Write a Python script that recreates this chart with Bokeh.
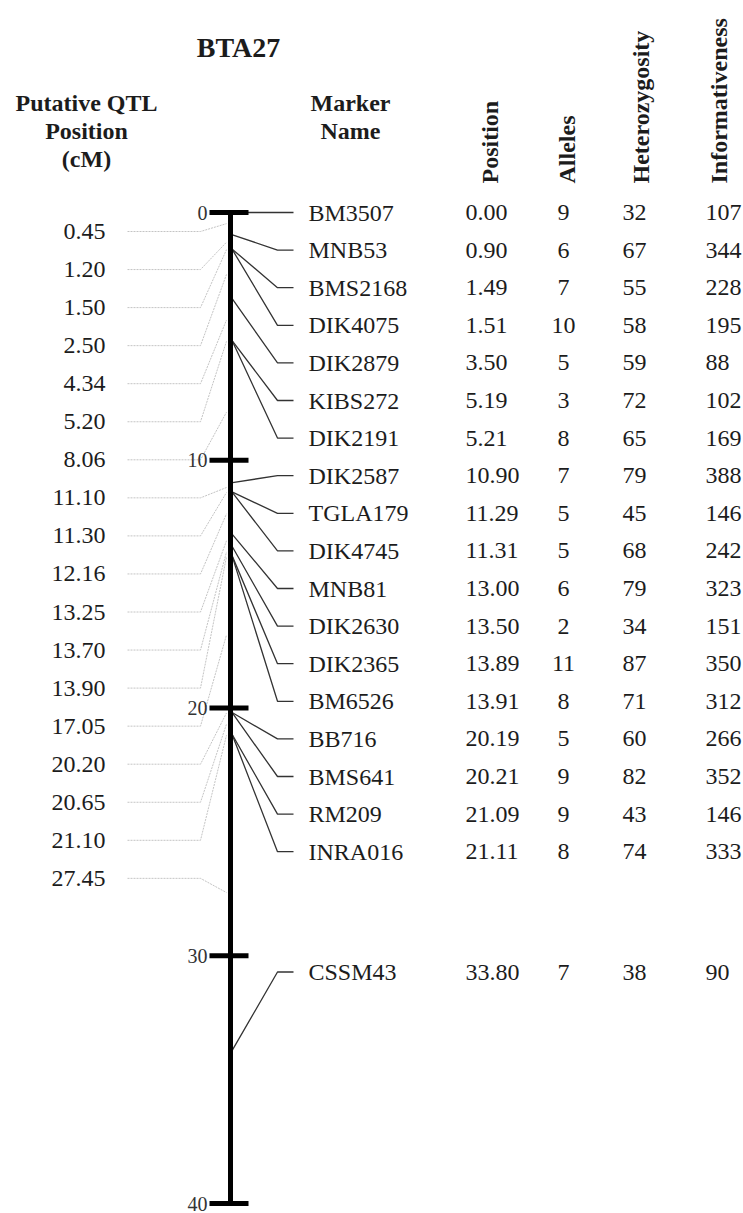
import numpy as np
from bokeh.plotting import figure
from bokeh.models import Range1d
from bokeh.core.properties import value
from bokeh.embed import file_html
from bokeh.resources import INLINE

# ---------------- data ----------------
chromosome = "BTA27"
markers = ["BM3507", "MNB53", "BMS2168", "DIK4075", "DIK2879", "KIBS272", "DIK2191",
           "DIK2587", "TGLA179", "DIK4745", "MNB81", "DIK2630", "DIK2365", "BM6526",
           "BB716", "BMS641", "RM209", "INRA016", "CSSM43"]
positions = [0.00, 0.90, 1.49, 1.51, 3.50, 5.19, 5.21, 10.90, 11.29, 11.31, 13.00,
             13.50, 13.89, 13.91, 20.19, 20.21, 21.09, 21.11, 33.80]
alleles = [9, 6, 7, 10, 5, 3, 8, 7, 5, 5, 6, 2, 11, 8, 5, 9, 9, 8, 7]
heterozygosity = [32, 67, 55, 58, 59, 72, 65, 79, 45, 68, 79, 34, 87, 71, 60, 82, 43, 74, 38]
informativeness = [107, 344, 228, 195, 88, 102, 169, 388, 146, 242, 323, 151, 350, 312,
                   266, 352, 146, 333, 90]
qtl_positions = [0.45, 1.20, 1.50, 2.50, 4.34, 5.20, 8.06, 11.10, 11.30, 12.16, 13.25,
                 13.70, 13.90, 17.05, 20.20, 20.65, 21.10, 27.45]
axis_ticks = [0, 10, 20, 30, 40]
chrom_length = 40
column_headers = ["Position", "Alleles", "Heterozygosity", "Informativeness"]

# ---------------- layout helpers ----------------
W, H = 743, 1213
PX0 = 212.0          # page pixel of 0 cM
PX_PER_CM = 24.775   # page pixels per cM


def to_cm(py):
    """convert a page-pixel row into the cM data unit of the y scale"""
    return (py - PX0) / PX_PER_CM


marker_rows = list(range(18)) + [20.2]
marker_label_y = [to_cm(212 + 37.6 * r) for r in marker_rows]
qtl_label_y = [to_cm(231 + 38.05 * i) for i in range(len(qtl_positions))]

FONT = value("Liberation Serif")
TXT = "#1c1c1c"

p = figure(width=W, height=H, output_backend="svg", toolbar_location=None,
           x_range=Range1d(0, W), y_range=Range1d(to_cm(H), to_cm(0)),
           min_border=0, tools="")
p.axis.visible = False
p.xgrid.visible = False
p.ygrid.visible = False
p.outline_line_color = None
p.background_fill_color = "white"
p.border_fill_color = "white"

# QTL connectors (light dashed)
qx = [[127, 200, 226] for _ in qtl_positions]
qy = [[ly, ly, q] for ly, q in zip(qtl_label_y, qtl_positions)]
p.multi_line(qx, qy, line_color="#c4c4c4", line_width=1, line_dash="2 1")

# marker connectors
mx = [[232, 277, 293] for _ in positions]
my = [[pos, ly, ly] for pos, ly in zip(positions, marker_label_y)]
p.multi_line(mx, my, line_color="#333333", line_width=1.3)

# chromosome bar
p.segment(x0=[230], y0=[0], x1=[230], y1=[chrom_length], line_color="black", line_width=5)
p.segment(x0=[209] * len(axis_ticks), y0=axis_ticks, x1=[248] * len(axis_ticks),
          y1=axis_ticks, line_color="black", line_width=5)
p.text(x=[207] * len(axis_ticks), y=axis_ticks, text=[str(t) for t in axis_ticks],
       text_font=FONT, text_font_size="20px", text_align="right",
       text_baseline="middle", text_color="#333333")

# QTL labels
p.text(x=[105] * len(qtl_positions), y=qtl_label_y,
       text=[f"{q:.2f}" for q in qtl_positions], text_font=FONT,
       text_font_size="24px", text_align="right", text_baseline="middle", text_color=TXT)

# marker table
def col(x, texts, align="left"):
    p.text(x=[x] * len(texts), y=marker_label_y, text=texts, text_font=FONT,
           text_font_size="24px", text_align=align, text_baseline="middle", text_color=TXT)

col(308, markers)
col(465, [f"{v:.2f}" for v in positions])
col(563, [str(v) for v in alleles], align="center")
col(622, [str(v) for v in heterozygosity])
col(705, [str(v) for v in informativeness])

# headers
p.text(x=[238], y=[to_cm(47)], text=[chromosome], text_font=FONT, text_font_size="28px",
       text_font_style="bold", text_align="center", text_baseline="middle", text_color=TXT)
p.text(x=[86] * 3, y=[to_cm(102), to_cm(130), to_cm(158)],
       text=["Putative QTL", "Position", "(cM)"], text_font=FONT, text_font_size="24px",
       text_font_style="bold", text_align="center", text_baseline="middle", text_color=TXT)
p.text(x=[350] * 2, y=[to_cm(102), to_cm(130)], text=["Marker", "Name"], text_font=FONT,
       text_font_size="24px", text_font_style="bold", text_align="center",
       text_baseline="middle", text_color=TXT)
p.text(x=[489, 566, 640, 718], y=[to_cm(183)] * 4, text=column_headers, text_font=FONT,
       text_font_size="24px", text_font_style="bold", text_align="left",
       text_baseline="middle", angle=np.pi / 2, text_color=TXT)

open("out.html", "w").write(file_html(p, INLINE))
